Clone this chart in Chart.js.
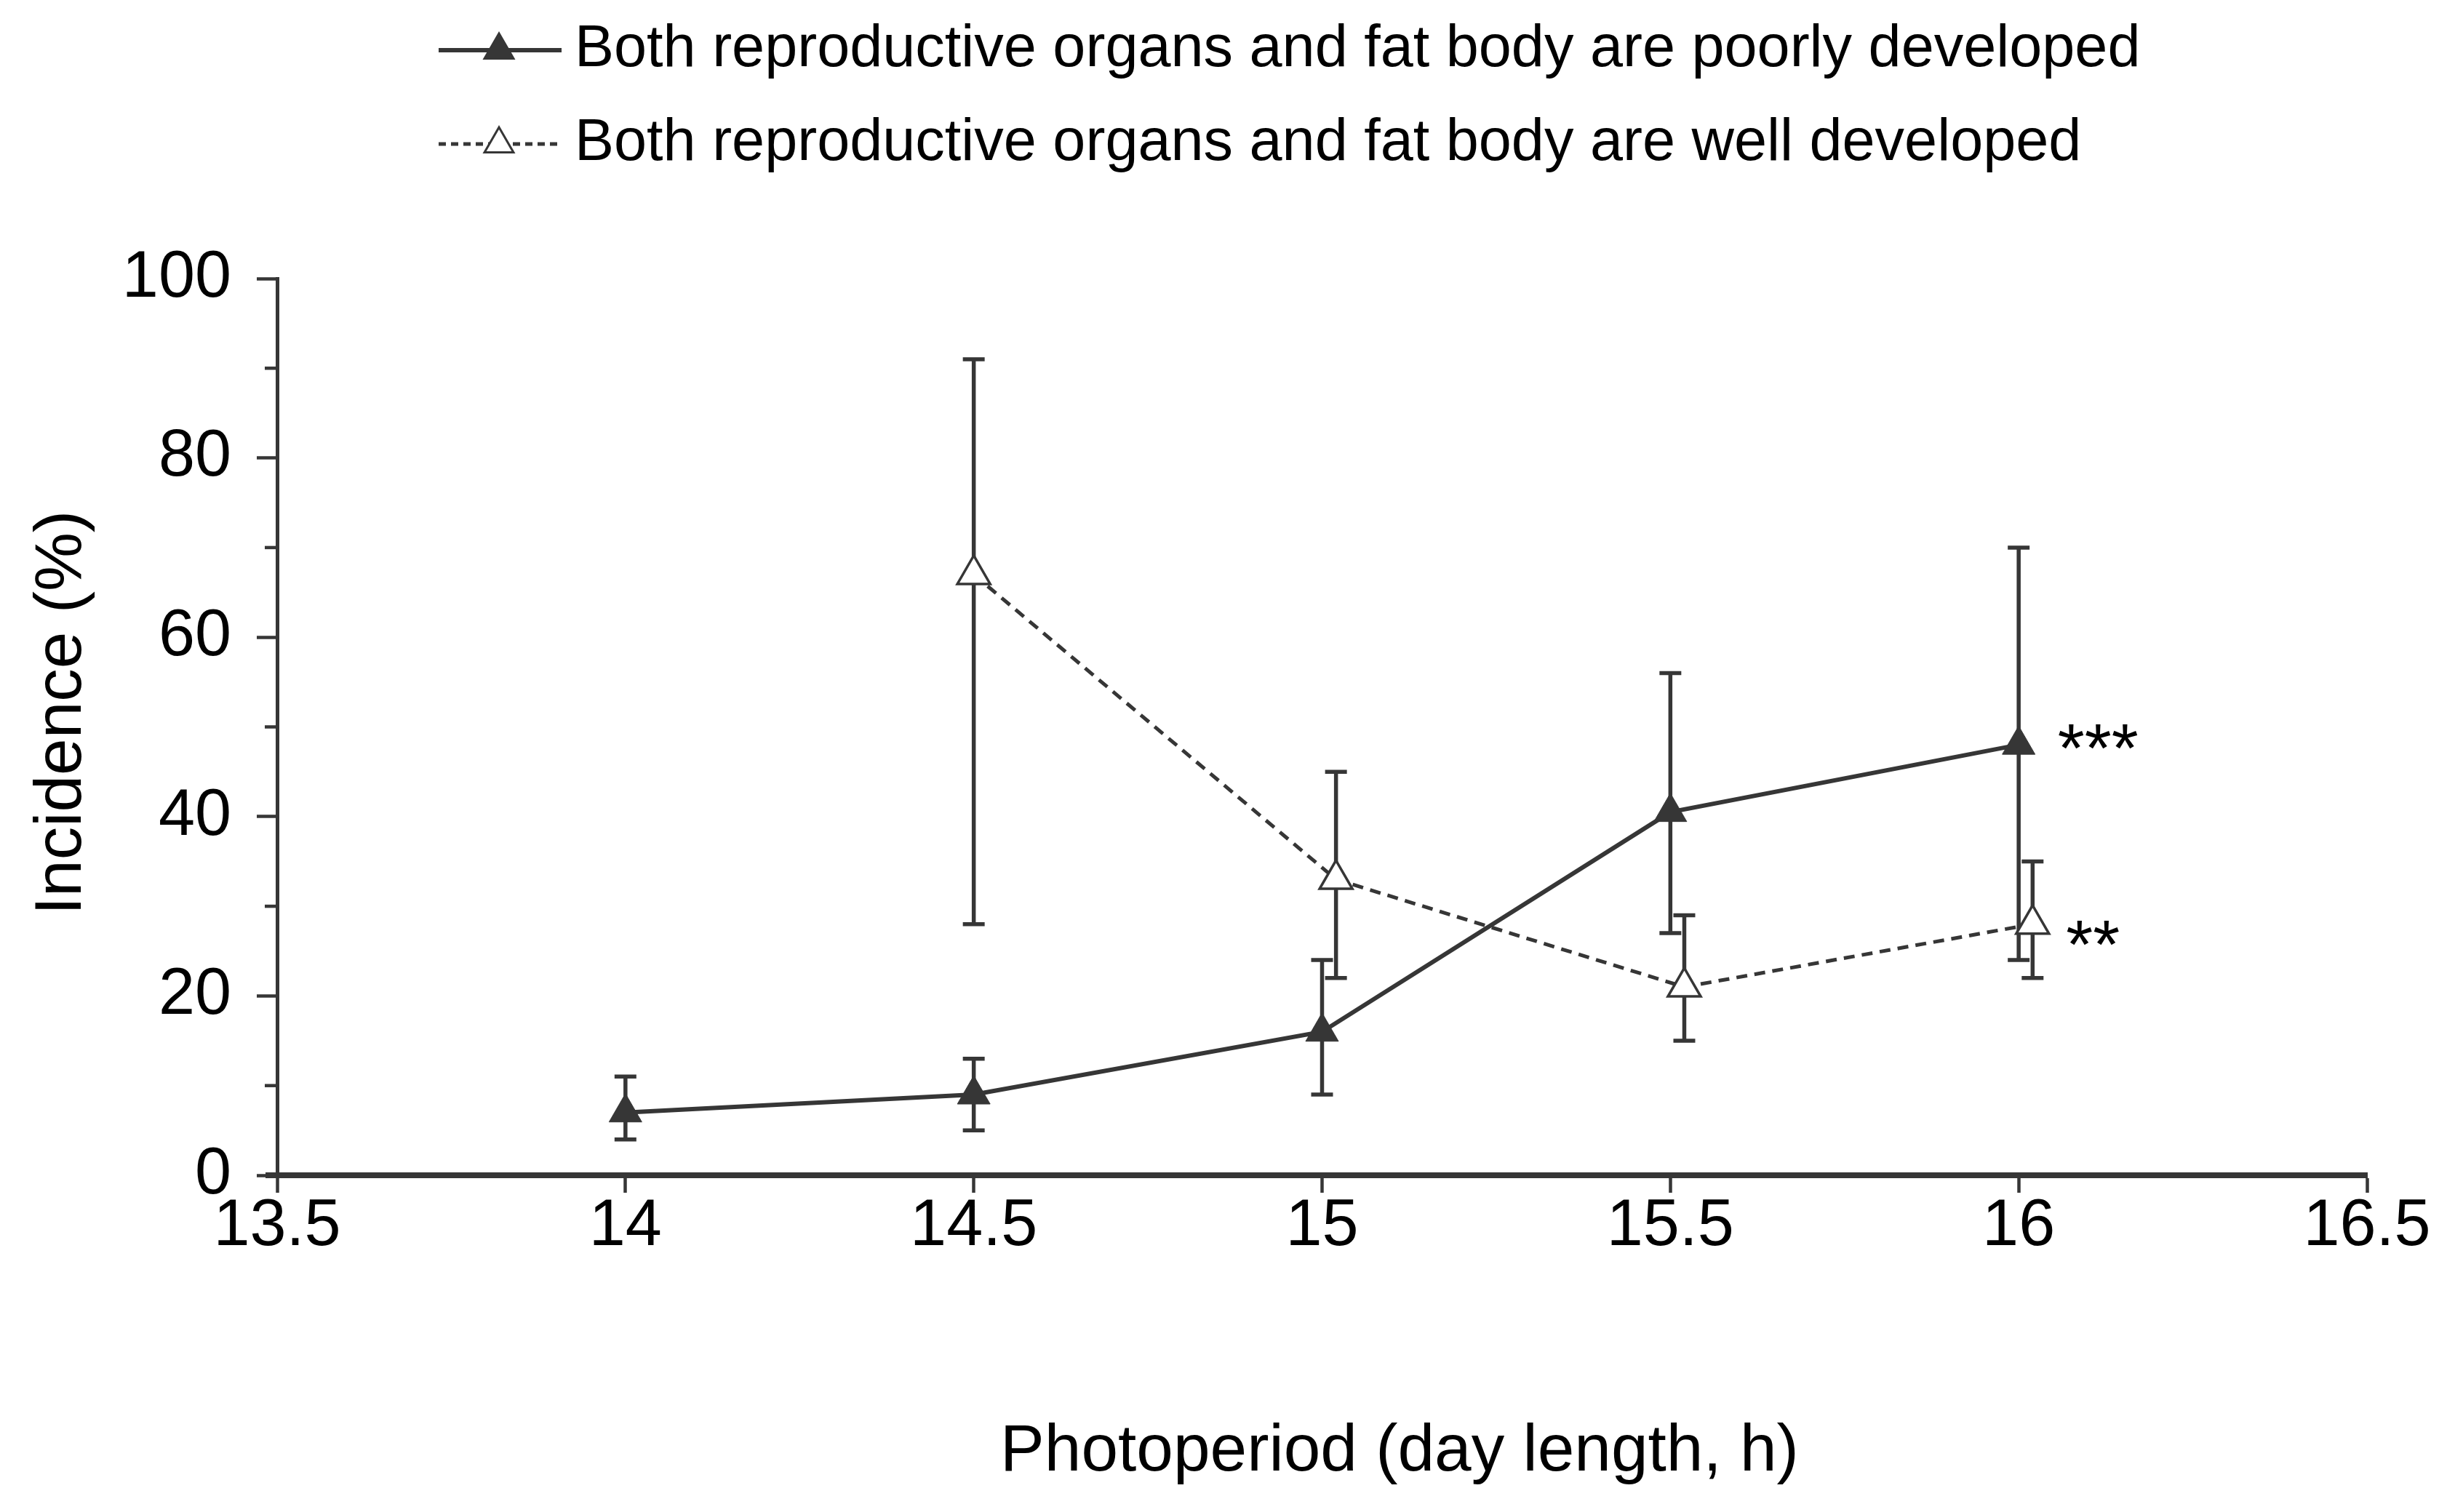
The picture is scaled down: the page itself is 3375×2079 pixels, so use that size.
<!DOCTYPE html>
<html>
<head>
<meta charset="utf-8">
<script src="https://cdn.jsdelivr.net/npm/chart.js@4.4.1/dist/chart.umd.min.js"></script>
<style>
  html, body { margin: 0; padding: 0; background: #fff; }
  #wrap { width: 3375px; height: 2079px; }
</style>
</head>
<body>
<div id="wrap"><canvas id="chart" width="3375" height="2079" style="width:3375px;height:2079px"></canvas></div>
<script>
// series names (legend)
const seriesNames = [
    'Both reproductive organs and fat body are poorly developed',
    'Both reproductive organs and fat body are well developed'
];
const xTitle = 'Photoperiod (day length, h)';
const yTitle = 'Incidence (%)';

// poorly developed (filled triangles)
const poorX = [14, 14.5, 15, 15.5, 16];
const poorY = [7, 9, 16, 40.5, 48];
const poorLow = [4, 5, 9, 27, 24];
const poorHigh = [11, 13, 24, 56, 70];

// well developed (open triangles), plotted slightly right of the ticks
const wellX = [14.5, 15.02, 15.52, 16.02];
const wellY = [67, 33, 21, 28];
const wellLow = [28, 22, 15, 22];
const wellHigh = [91, 45, 29, 35];

// significance marks
const starX = [16.056, 16.068];
const starY = [48.4, 26.5];
const starText = ['***', '**'];

const INK = '#363636';
const FONT = '"Liberation Sans", Arial, sans-serif';

const errorBars = {
    id: 'errorBars',
    beforeDatasetsDraw(chart) {
        const ctx = chart.ctx;
        const xs = chart.scales.x, ys = chart.scales.y;
        const sets = [[poorX, poorLow, poorHigh], [wellX, wellLow, wellHigh]];
        ctx.save();
        ctx.strokeStyle = INK;
        ctx.lineWidth = 5.5;
        sets.forEach(([xv, lo, hi]) => {
            xv.forEach((x, i) => {
                const px = xs.getPixelForValue(x);
                const y1 = ys.getPixelForValue(lo[i]);
                const y2 = ys.getPixelForValue(hi[i]);
                ctx.beginPath();
                ctx.moveTo(px, y1); ctx.lineTo(px, y2);
                ctx.moveTo(px - 15, y1); ctx.lineTo(px + 15, y1);
                ctx.moveTo(px - 15, y2); ctx.lineTo(px + 15, y2);
                ctx.stroke();
            });
        });
        ctx.restore();
    }
};

const extras = {
    id: 'extras',
    afterDraw(chart) {
        const ctx = chart.ctx;
        const xs = chart.scales.x, ys = chart.scales.y;
        ctx.save();
        // minor ticks on the y axis
        ctx.strokeStyle = INK;
        ctx.lineWidth = 4.5;
        ys.ticks.forEach(t => {
            if (t.value % 20 !== 0) {
                const py = ys.getPixelForValue(t.value);
                ctx.beginPath();
                ctx.moveTo(xs.left - 17, py); ctx.lineTo(xs.left, py);
                ctx.stroke();
            }
        });
        // x axis runs a little past the y axis
        ctx.lineWidth = 8;
        ctx.beginPath();
        ctx.moveTo(xs.left - 16, ys.bottom); ctx.lineTo(xs.left, ys.bottom);
        ctx.stroke();

        // axis titles
        ctx.fillStyle = '#000';
        ctx.font = '91px ' + FONT;
        ctx.textAlign = 'center';
        ctx.textBaseline = 'middle';
        ctx.fillText(xTitle, 1924, 1997);
        ctx.save();
        ctx.translate(86, 980);
        ctx.rotate(-Math.PI / 2);
        ctx.fillText(yTitle, 0, 0);
        ctx.restore();

        // asterisks
        ctx.font = '95px ' + FONT;
        ctx.textAlign = 'left';
        ctx.textBaseline = 'alphabetic';
        starText.forEach((s, i) => {
            ctx.fillText(s, xs.getPixelForValue(starX[i]), ys.getPixelForValue(starY[i]) + 42);
        });

        // legend
        seriesNames.forEach((name, i) => {
            const ds = chart.data.datasets[i];
            const y = 69 + i * 129;
            ctx.strokeStyle = INK;
            ctx.lineWidth = ds.borderWidth;
            ctx.setLineDash(i === 0 ? [] : [10, 7]);
            ctx.beginPath();
            ctx.moveTo(603, y); ctx.lineTo(772, y);
            ctx.stroke();
            ctx.setLineDash([]);
            const cx = 686, r = 23;
            ctx.beginPath();
            ctx.moveTo(cx, y - r);
            ctx.lineTo(cx + r * 0.866, y + r / 2);
            ctx.lineTo(cx - r * 0.866, y + r / 2);
            ctx.closePath();
            ctx.fillStyle = ds.pointBackgroundColor;
            ctx.fill();
            ctx.lineWidth = 3;
            ctx.stroke();
            ctx.fillStyle = '#000';
            ctx.font = '81px ' + FONT;
            ctx.textAlign = 'left';
            ctx.textBaseline = 'middle';
            ctx.fillText(name, 790, y);
        });
        ctx.restore();
    }
};

new Chart(document.getElementById('chart'), {
    type: 'line',
    data: {
        datasets: [
            {
                label: seriesNames[0],
                data: poorX.map((x, i) => ({ x: x, y: poorY[i] })),
                borderColor: INK,
                borderWidth: 6,
                pointStyle: 'triangle',
                pointRadius: 26,
                pointBackgroundColor: INK,
                pointBorderColor: INK,
                pointBorderWidth: 1
            },
            {
                label: seriesNames[1],
                data: wellX.map((x, i) => ({ x: x, y: wellY[i] })),
                borderColor: INK,
                borderWidth: 5,
                borderDash: [15, 10],
                pointStyle: 'triangle',
                pointRadius: 26,
                pointBackgroundColor: '#fff',
                pointBorderColor: INK,
                pointBorderWidth: 3.5
            }
        ]
    },
    options: {
        responsive: false,
        devicePixelRatio: 1,
        animation: false,
        layout: { padding: { top: 383, right: 121, bottom: 27, left: 31 } },
        plugins: {
            legend: { display: false },
            tooltip: { enabled: false }
        },
        scales: {
            x: {
                type: 'linear',
                min: 13.5,
                max: 16.5,
                ticks: {
                    stepSize: 0.5,
                    color: '#000',
                    padding: 2,
                    font: { family: FONT, size: 90, lineHeight: 1 },
                    callback: v => String(v)
                },
                grid: { drawOnChartArea: false, tickLength: 24, tickWidth: 4.5, tickColor: INK },
                border: { display: true, color: INK, width: 8 },
                afterFit(scale) {
                    scale.height = 2079 - 1616 - 27;
                    scale.paddingLeft = 0;
                    scale.paddingRight = 0;
                }
            },
            y: {
                min: 0,
                max: 100,
                ticks: {
                    stepSize: 10,
                    color: '#000',
                    padding: 35,
                    font: { family: FONT, size: 90 },
                    callback: v => (v % 20 === 0 ? v : '')
                },
                grid: {
                    drawOnChartArea: false,
                    tickLength: 28,
                    tickWidth: 4.5,
                    tickColor: ctx => (ctx.tick && ctx.tick.value % 20 === 0 ? INK : 'rgba(0,0,0,0)')
                },
                border: { display: true, color: INK, width: 5 },
                afterFit(scale) {
                    scale.width = 381 - 31;
                    scale.paddingTop = 0;
                    scale.paddingBottom = 0;
                }
            }
        }
    },
    plugins: [errorBars, extras]
});
</script>
</body>
</html>
